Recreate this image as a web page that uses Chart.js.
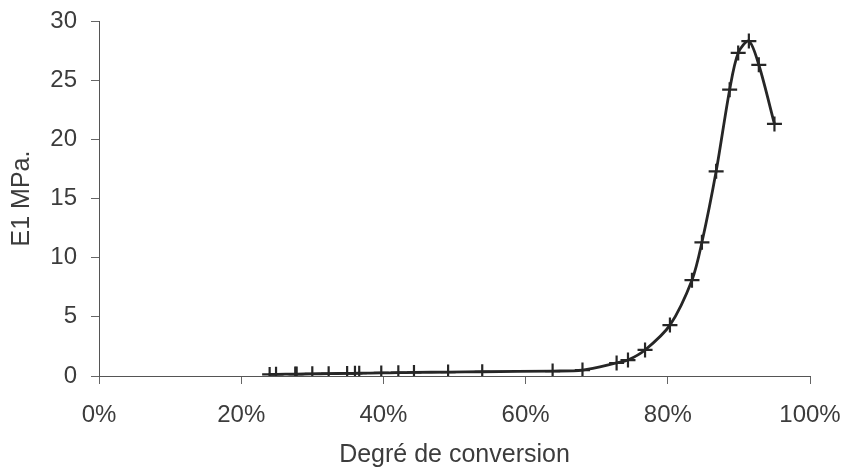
<!DOCTYPE html>
<html>
<head>
<meta charset="utf-8">
<script src="https://cdn.jsdelivr.net/npm/chart.js@4/dist/chart.umd.min.js"></script>
<style>
  html, body { margin: 0; padding: 0; background: #fff; }
  #wrap { width: 848px; height: 470px; }
</style>
</head>
<body>
<div id="wrap"><canvas id="chartContainer"></canvas></div>
<script>
// degré de conversion (%) et E1 (MPa)
const conversion = [24, 24.9, 27.6, 27.8, 30, 32.3, 34.9, 36, 36.6, 39.7, 42.1, 44.3, 49.1, 53.9,
  63.8, 68, 72.8, 74.4, 76.8, 80.3, 83.4, 84.8, 86.8, 88.7, 89.9, 91.4, 92.8, 95];
const e1 = [0.13, 0.14, 0.16, 0.16, 0.18, 0.2, 0.22, 0.23, 0.24, 0.26, 0.28, 0.3, 0.33, 0.36,
  0.42, 0.5, 1.1, 1.35, 2.2, 4.3, 8.1, 11.3, 17.3, 24.2, 27.3, 28.3, 26.3, 21.3];
const xTicks = [0, 20, 40, 60, 80, 100];

const points = conversion.map((x, i) => ({ x: x, y: e1[i] }));
const ink = '#262626';
const family = "'Liberation Sans', Arial, sans-serif";
const tickFont = { family: family, size: 24 };

const ctx = document.getElementById('chartContainer').getContext('2d');
new Chart(ctx, {
  type: 'line',
  data: {
    datasets: [{
      data: points,
      borderColor: ink,
      borderWidth: 2.8,
      tension: 0.3,
      pointStyle: 'cross',
      pointRadius: 7.5,
      pointBorderWidth: 2.2,
      pointBorderColor: ink,
      fill: false
    }]
  },
  options: {
    responsive: true,
    maintainAspectRatio: false,
    animation: false,
    layout: { padding: { top: 21, right: 38, left: 0, bottom: 0 } },
    plugins: {
      legend: { display: false },
      tooltip: { enabled: false }
    },
    scales: {
      x: {
        type: 'linear',
        min: 0,
        max: 100,
        afterBuildTicks: s => { s.ticks = xTicks.map(v => ({ value: v })); },
        afterFit: s => { s.height = 94; s.paddingLeft = 0; s.paddingRight = 0; },
        grid: { drawOnChartArea: false, drawTicks: true, tickLength: 8, color: '#666' },
        border: { display: true, color: '#555', width: 1 },
        ticks: { color: '#3c3c3c', font: tickFont, padding: 17, maxRotation: 0, callback: v => v + '%' },
        title: { display: true, text: 'Degré de conversion', color: '#3c3c3c',
                 font: { family: family, size: 25 }, padding: { top: 0, bottom: 0 } }
      },
      y: {
        min: 0,
        max: 30,
        afterFit: s => { s.width = 99; s.paddingTop = 0; s.paddingBottom = 0; },
        grid: { drawOnChartArea: false, drawTicks: true, tickLength: 8, color: '#666' },
        border: { display: true, color: '#555', width: 1 },
        ticks: { stepSize: 5, color: '#3c3c3c', font: tickFont, padding: 14 },
        title: { display: true, text: 'E1 MPa.', color: '#3c3c3c',
                 font: { family: family, size: 25 }, padding: { top: 7, bottom: 0 } }
      }
    }
  }
});
</script>
</body>
</html>
